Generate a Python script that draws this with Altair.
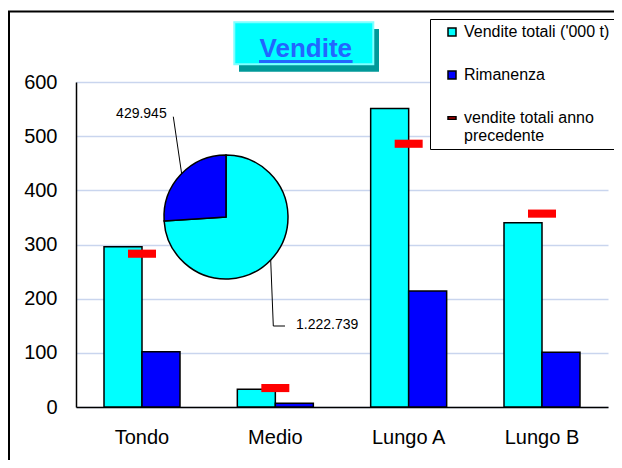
import altair as alt
import pandas as pd

# ---- data ----
categorie = ["Tondo", "Medio", "Lungo A", "Lungo B"]
vendite_totali = [296, 33, 551, 340]
rimanenza = [102, 7, 214, 101]
vendite_anno_prec = [283, 35, 486, 357]
serie_nomi = ["Vendite totali ('000 t)", "Rimanenza", "vendite totali anno precedente"]
serie_colori = ["#00FFFF", "#0000FF", "#FF0000"]
torta_valori = [1222739, 429945]
torta_etichette = ["1.222.739", "429.945"]
titolo = "Vendite"
y_ticks = [0, 100, 200, 300, 400, 500, 600]

FONT = "Liberation Sans"
W, H = 532, 325
DASH = "M-1,-0.29L1,-0.29L1,0.29L-1,0.29Z"

bars_df = pd.DataFrame({
    "categoria": categorie * 2,
    "serie": [serie_nomi[0]] * 4 + [serie_nomi[1]] * 4,
    "valore": vendite_totali + rimanenza,
})
prec_df = pd.DataFrame({
    "categoria": categorie,
    "serie": [serie_nomi[2]] * 4,
    "valore": vendite_anno_prec,
})
pie_df = pd.DataFrame({
    "serie": serie_nomi[:2],
    "valore": torta_valori,
    "ordine": [0, 1],
})
one = pd.DataFrame({"k": [0]})

color_scale = alt.Scale(domain=serie_nomi, range=serie_colori)
shape_scale = alt.Scale(domain=serie_nomi, range=["square", "square", DASH])

legend = alt.Legend(
    title=None, orient="none", legendX=354, legendY=-63,
    padding=5, symbolOffset=9, labelOffset=4, rowPadding=27,
    symbolSize=64, symbolType="square",
    labelFont=FONT, labelFontSize=16, labelColor="black", labelLimit=300,
    fillColor="white", strokeColor="black",
    labelExpr="datum.label == 'vendite totali anno precedente' ? ['vendite totali anno', 'precedente'] : datum.label",
)

x_enc = alt.X(
    "categoria:N", sort=categorie,
    scale=alt.Scale(paddingInner=0.43, paddingOuter=0.21),
    axis=alt.Axis(title=None, labelAngle=0, labelFont=FONT, labelFontSize=20,
                  labelColor="black", labelPadding=20, ticks=False, tickSize=0,
                  domainColor="black", domainWidth=1.5, grid=False),
)
y_enc = alt.Y(
    "valore:Q", stack=False,
    scale=alt.Scale(domain=[0, 600], nice=False),
    axis=alt.Axis(title=None, values=y_ticks, labelFont=FONT, labelFontSize=20,
                  labelColor="black", labelPadding=19, ticks=False, tickSize=0,
                  domainColor="black", domainWidth=1.5,
                  gridColor="#C9D5EE", gridWidth=1.5),
)

bars = alt.Chart(bars_df).mark_bar(stroke="black", strokeWidth=1.5).encode(
    x=x_enc,
    xOffset=alt.XOffset("serie:N", sort=serie_nomi[:2],
                        scale=alt.Scale(paddingInner=0, paddingOuter=0)),
    y=y_enc,
    color=alt.Color("serie:N", scale=color_scale, legend=legend),
)

prec = alt.Chart(prec_df).mark_point(filled=True, size=784, opacity=1, strokeWidth=0).encode(
    x=x_enc,
    y=y_enc,
    color=alt.Color("serie:N", scale=color_scale, legend=legend),
    shape=alt.Shape("serie:N", scale=shape_scale, legend=legend),
)

pie = alt.Chart(pie_df).mark_arc(outerRadius=62, stroke="black", strokeWidth=1.5).encode(
    theta=alt.Theta("valore:Q", stack=True),
    color=alt.Color("serie:N", scale=color_scale, legend=legend),
    order=alt.Order("ordine:Q"),
    x=alt.value(150),
    y=alt.value(135),
)


def rule(x, y, x2, y2, color="black", w=1.0):
    return alt.Chart(one).mark_rule(color=color, strokeWidth=w).encode(
        x=alt.value(x), y=alt.value(y), x2=alt.value(x2), y2=alt.value(y2))


def rect(x, y, x2, y2, fill, stroke=None, w=0):
    kw = {"fill": fill}
    if stroke:
        kw.update({"stroke": stroke, "strokeWidth": w})
    return alt.Chart(one).mark_rect(**kw).encode(
        x=alt.value(x), y=alt.value(y), x2=alt.value(x2), y2=alt.value(y2))


def label(txt, x, y, size, align="left", baseline="middle", color="black", weight="normal"):
    return alt.Chart(one).mark_text(
        text=txt, font=FONT, fontSize=size, fontWeight=weight, color=color,
        align=align, baseline=baseline).encode(x=alt.value(x), y=alt.value(y))


frame = [
    rule(-68, -70.5, 540, -70.5, w=2),
    rule(-67, -71, -67, 380, w=2),
]
title_parts = [
    rect(163, -53, 303, -10.3, "#009999"),
    rect(158.3, -59.7, 297.3, -17.7, "#00FFFF", "#7FFFFF", 2),
    label(titolo, 229.8, -25.3, 26, align="center", baseline="alphabetic",
          color="#2266FF", weight="bold"),
    rule(183, -20.5, 276.6, -20.5, color="#2266FF", w=3),
]
pie_notes = [
    rule(97.3, 34.7, 105.7, 92),
    label(torta_etichette[1], 90.7, 32, 14, align="right"),
    rule(194.7, 178, 197.3, 244),
    rule(197.3, 244, 209, 244),
    label(torta_etichette[0], 220, 243, 14, align="left"),
]

chart = alt.layer(
    *frame, *title_parts, bars, prec, pie, *pie_notes
).properties(
    width=W, height=H,
    padding={"left": 68, "top": 74, "right": 6, "bottom": 53},
    autosize=alt.AutoSizeParams(type="none"),
).configure_view(strokeWidth=0)

chart.save("out.html", embed_options={"renderer": "svg", "actions": False})
